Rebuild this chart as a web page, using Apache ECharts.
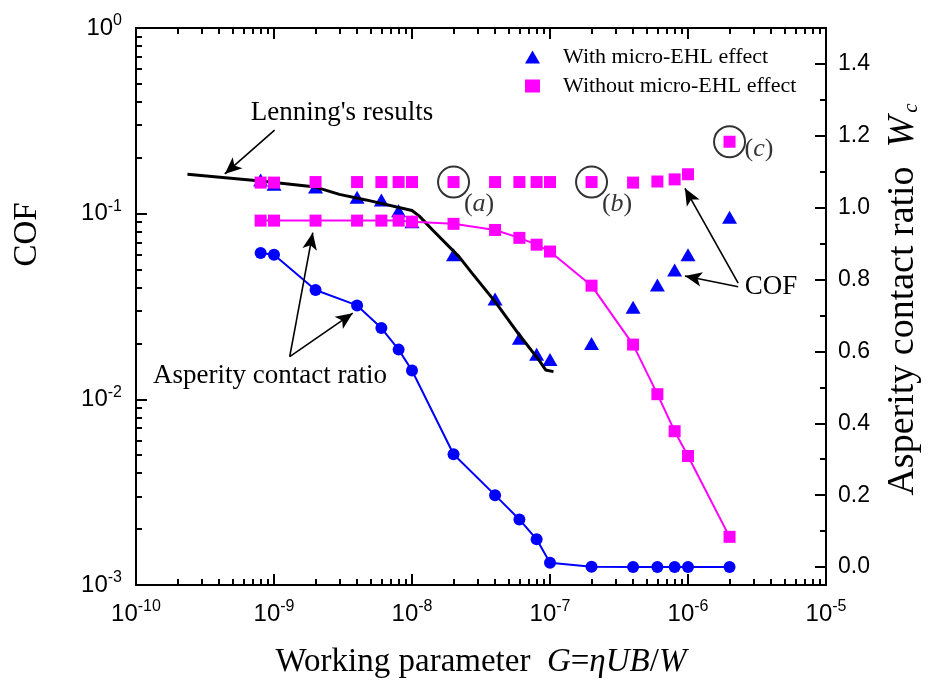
<!DOCTYPE html>
<html>
<head>
<meta charset="utf-8">
<script src="https://cdn.jsdelivr.net/npm/echarts@6/dist/echarts.min.js"></script>
<style>
  html, body { margin: 0; padding: 0; background: #fff; }
  #chart { width: 930px; height: 685px; }
</style>
</head>
<body>
<div id="chart"></div>
<script>
// working parameter G for the computed points
var gValues = [8e-10, 1e-9, 2e-9, 4e-9, 6e-9, 8e-9, 1e-8, 2e-8, 4e-8, 6e-8, 8e-8,
    1e-7, 2e-7, 4e-7, 6e-7, 8e-7, 1e-6, 2e-6];
// COF
var cofWith = [0.152, 0.144, 0.139, 0.1225, 0.1186, 0.1038, 0.0906, 0.060, 0.0347, 0.0213, 0.0175,
    0.0164, 0.020, 0.0313, 0.0413, 0.0497, 0.060, 0.0957];
var cofWithout = [0.147, 0.147, 0.148, 0.148, 0.148, 0.148, 0.148, 0.148, 0.148, 0.148, 0.148,
    0.148, 0.148, 0.147, 0.149, 0.153, 0.163, 0.244];
// asperity contact ratio Wc
var wcWith = [0.874, 0.869, 0.771, 0.728, 0.665, 0.605, 0.547, 0.314, 0.200, 0.1325, 0.077,
    0.012, 0.001, 0, 0, 0, 0, 0];
var wcWithout = [0.964, 0.964, 0.964, 0.964, 0.964, 0.964, 0.961, 0.955, 0.938, 0.916, 0.897,
    0.878, 0.783, 0.619, 0.481, 0.378, 0.309, 0.084];
// Lenning's results
var lenG = [2.36e-10, 8e-10, 2e-9, 2.98e-9, 4.64e-9, 1e-8, 1.13e-8, 1.41e-8, 2.19e-8, 2.73e-8,
    4e-8, 6e-8, 8.3e-8, 9.3e-8, 1.06e-7];
var lenCof = [0.163, 0.150, 0.139, 0.127, 0.1186, 0.104, 0.097, 0.0817, 0.0587, 0.0477,
    0.0336, 0.0222, 0.0163, 0.0144, 0.0141];
// circled cases (a) (b) (c)
var circledIdx = [7, 12, 17];
var circledNames = ['a', 'b', 'c'];
// arrows [from, to] in data units (G, COF)
var arrows = [
    [[1.01e-9, 0.282], [4.4e-10, 0.1636]],
    [[1.30e-9, 0.0170], [1.91e-9, 0.079]],
    [[1.30e-9, 0.0170], [3.72e-9, 0.0291]],
    [[2.31e-6, 0.0422], [9.5e-7, 0.137]],
    [[2.31e-6, 0.0404], [9.5e-7, 0.0462]]
];
// ticks
var xMajor = [1e-10, 1e-9, 1e-8, 1e-7, 1e-6, 1e-5];
var yMajor = [1e-3, 1e-2, 1e-1, 1];
var wcMajor = [0, 0.2, 0.4, 0.6, 0.8, 1.0, 1.2, 1.4];
var wcMinor = [0.1, 0.3, 0.5, 0.7, 0.9, 1.1, 1.3];

var BLUE = '#0000ff', MAG = '#ff00ff';
var SERIF = 'Liberation Serif', SANS = 'Liberation Sans';

function minorLog(majors) {
    var out = [];
    for (var i = 0; i < majors.length - 1; i++) {
        for (var k = 2; k <= 9; k++) out.push(majors[i] * k);
    }
    return out;
}
function pow10(v) {
    return '10{sup|' + Math.round(Math.log10(v)) + '}';
}
function pairs(xs, ys) {
    return xs.map(function (x, i) { return [x, ys[i]]; });
}

var labelRich = {
    sup: { fontFamily: SANS, fontSize: 16, color: '#000', padding: [0, 0, 14, 0] }
};
var frameLine = { show: true, onZero: false, lineStyle: { color: '#000', width: 2 } };

function logAxis(pos, min, max, majors, major, showLabel, extra) {
    var ax = {
        type: 'log', logBase: 10, min: min, max: max, position: pos,
        axisLine: major ? frameLine : { show: false, onZero: false },
        axisTick: {
            show: true, inside: true, length: major ? 11 : 6,
            customValues: major ? majors : minorLog(majors),
            lineStyle: { color: '#000', width: 2 }
        },
        axisLabel: {
            show: showLabel, customValues: majors, formatter: pow10,
            fontFamily: SANS, fontSize: 24, color: '#000', rich: labelRich
        },
        splitLine: { show: false }
    };
    for (var k in extra) ax[k] = extra[k];
    return ax;
}

var chart = echarts.init(document.getElementById('chart'));
var option = {
    animation: false,
    backgroundColor: '#fff',
    grid: { left: 136, right: 102, top: 28, bottom: 100 },
    legend: {
        orient: 'vertical', left: 520, top: 41, itemGap: 7,
        itemWidth: 15, itemHeight: 13,
        textStyle: { fontFamily: SERIF, fontSize: 22, color: '#000', padding: [0, 0, 0, 18] },
        data: [
            { name: 'With micro-EHL effect', icon: 'triangle' },
            { name: 'Without micro-EHL effect', icon: 'rect' }
        ]
    },
    xAxis: [
        logAxis('bottom', 1e-10, 1e-5, xMajor, true, true, {
            name: 'Working parameter  {i|G}={i|ηUB}/{i|W}',
            nameLocation: 'middle', nameGap: 61,
            nameTextStyle: {
                fontFamily: SERIF, fontSize: 33, color: '#000',
                rich: { i: { fontFamily: SERIF, fontSize: 33, fontStyle: 'italic', color: '#000' } }
            },
            axisLabel: {
                show: true, customValues: xMajor, formatter: pow10, margin: 14,
                fontFamily: SANS, fontSize: 24, color: '#000', rich: labelRich
            }
        }),
        logAxis('bottom', 1e-10, 1e-5, xMajor, false, false, {}),
        logAxis('top', 1e-10, 1e-5, xMajor, true, false, {}),
        logAxis('top', 1e-10, 1e-5, xMajor, false, false, {})
    ],
    yAxis: [
        logAxis('left', 1e-3, 1, yMajor, true, true, {
            name: 'COF', nameLocation: 'middle', nameGap: 92, nameRotate: 90,
            nameTextStyle: { fontFamily: SERIF, fontSize: 33, color: '#000', padding: [0, 0, 0, 144] },
            axisLabel: {
                show: true, customValues: yMajor, formatter: pow10, margin: 14,
                fontFamily: SANS, fontSize: 24, color: '#000', rich: labelRich
            }
        }),
        logAxis('left', 1e-3, 1, yMajor, false, false, {}),
        {
            type: 'value', position: 'right', min: -0.05, max: 1.5,
            axisLine: frameLine,
            axisTick: {
                show: true, inside: true, length: 11, customValues: wcMajor,
                lineStyle: { color: '#000', width: 2 }
            },
            axisLabel: {
                customValues: wcMajor, margin: 12,
                formatter: function (v) { return v.toFixed(1); },
                fontFamily: SANS, fontSize: 23, color: '#000'
            },
            splitLine: { show: false },
            name: 'Asperity contact ratio  {i|W}{sub|c}',
            nameLocation: 'middle', nameRotate: 90, nameGap: 58,
            nameTextStyle: {
                fontFamily: SERIF, fontSize: 38, color: '#000', padding: [0, 0, 0, 14],
                rich: {
                    i: { fontFamily: SERIF, fontSize: 38, fontStyle: 'italic', color: '#000' },
                    sub: { fontFamily: SERIF, fontSize: 21, fontStyle: 'italic', color: '#000', padding: [16, 0, 0, 3] }
                }
            }
        },
        {
            type: 'value', position: 'right', min: -0.05, max: 1.5,
            axisLine: { show: false, onZero: false },
            axisTick: {
                show: true, inside: true, length: 6, customValues: wcMinor,
                lineStyle: { color: '#000', width: 2 }
            },
            axisLabel: { show: false },
            splitLine: { show: false }
        }
    ],
    graphic: [
        { type: 'text', x: 342, y: 113, style: { text: "Lenning's results", fontFamily: SERIF, fontSize: 27, fill: '#000', align: 'center', verticalAlign: 'middle' } },
        { type: 'text', x: 270, y: 376, style: { text: 'Asperity contact ratio', fontFamily: SERIF, fontSize: 27, fill: '#000', align: 'center', verticalAlign: 'middle' } },
        { type: 'text', x: 771, y: 287, style: { text: 'COF', fontFamily: SERIF, fontSize: 27, fill: '#000', align: 'center', verticalAlign: 'middle' } }
    ],
    series: [
        {
            name: 'Wc with', type: 'line', xAxisIndex: 0, yAxisIndex: 2,
            data: pairs(gValues, wcWith), symbol: 'circle', symbolSize: 12,
            itemStyle: { color: BLUE }, lineStyle: { color: BLUE, width: 2 }, z: 2
        },
        {
            name: 'With micro-EHL effect', type: 'scatter', xAxisIndex: 0, yAxisIndex: 0,
            data: pairs(gValues, cofWith), symbol: 'triangle', symbolSize: [15, 13],
            itemStyle: { color: BLUE, opacity: 1 }, z: 3
        },
        {
            name: "Lenning's results", type: 'line', xAxisIndex: 0, yAxisIndex: 0,
            data: pairs(lenG, lenCof), showSymbol: false, symbol: 'none',
            lineStyle: { color: '#000', width: 3 }, z: 4,
            markLine: {
                silent: true, symbol: ['none', 'arrow'], symbolSize: [11, 17],
                label: { show: false },
                lineStyle: { color: '#000', width: 1.6, type: 'solid' },
                data: arrows.map(function (a) {
                    return [{ coord: a[0] }, { coord: a[1] }];
                })
            }
        },
        {
            name: 'Without micro-EHL effect', type: 'scatter', xAxisIndex: 0, yAxisIndex: 0,
            data: pairs(gValues, cofWithout), symbol: 'rect', symbolSize: 12,
            itemStyle: { color: MAG, opacity: 1 }, z: 5
        },
        {
            name: 'Wc without', type: 'line', xAxisIndex: 0, yAxisIndex: 2,
            data: pairs(gValues, wcWithout), symbol: 'rect', symbolSize: 12,
            itemStyle: { color: MAG }, lineStyle: { color: MAG, width: 2 }, z: 5
        },
        {
            name: 'cases', type: 'scatter', xAxisIndex: 0, yAxisIndex: 0,
            symbol: 'circle', symbolSize: 31, z: 6,
            itemStyle: { color: 'rgba(0,0,0,0)', borderColor: '#000', borderWidth: 2 },
            label: {
                show: true, align: 'center', verticalAlign: 'middle',
                fontFamily: SERIF, fontSize: 26, color: '#000',
                rich: { i: { fontFamily: SERIF, fontSize: 26, fontStyle: 'italic', color: '#000' } }
            },
            data: circledIdx.map(function (idx, i) {
                return {
                    value: [gValues[idx], cofWithout[idx]],
                    label: {
                        formatter: '({i|' + circledNames[i] + '})',
                        position: i === 2 ? [46, 24] : [42, 39]
                    }
                };
            })
        }
    ]
};
chart.setOption(option);
</script>
</body>
</html>
